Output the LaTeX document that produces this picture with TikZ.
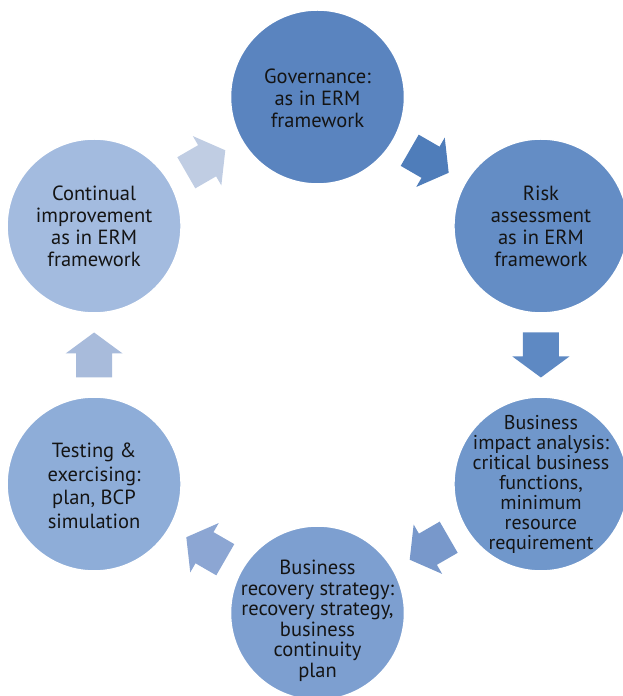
\documentclass[tikz,border=0pt]{standalone}
\usepackage{fontspec}
\setmainfont{PT Sans}
\definecolor{cGov}{HTML}{5A84BF}
\definecolor{cRisk}{HTML}{648DC5}
\definecolor{cBia}{HTML}{7097CB}
\definecolor{cBrs}{HTML}{7D9FD0}
\definecolor{cTest}{HTML}{8EADD8}
\definecolor{cCont}{HTML}{A3BBDF}
\definecolor{aOne}{HTML}{4F7DBA}
\definecolor{aTwo}{HTML}{5E89C3}
\definecolor{aThree}{HTML}{7898CB}
\definecolor{aFour}{HTML}{8CA6D3}
\definecolor{aFive}{HTML}{A8BBDB}
\definecolor{aSix}{HTML}{C0CDE3}
\definecolor{txt}{HTML}{141414}
\tikzset{
  bubble/.style={circle, minimum size=174pt, inner sep=0pt, draw=white, line width=1.5pt},
  label/.style={align=center, text=txt, font=\fontsize{20.5}{22}\selectfont},
}
\newcommand{\blockarrow}[3]{% angle, colour, name
  \begin{scope}[shift={(#1:223.4)}, rotate=#1-90]
    \coordinate (#3) at (0,0);
    \fill[#2] (-22.5,-18) -- (1.5,-18) -- (1.5,-28.5) -- (22.5,0) -- (1.5,28.5) -- (1.5,18) -- (-22.5,18) -- cycle;
  \end{scope}}
\begin{document}
\begin{tikzpicture}[x=1pt,y=1pt]
\useasboundingbox (0,0) rectangle (623,696);
\clip (0,0) rectangle (623,696);
\begin{scope}[shift={(317.5,341)}]
  \node[bubble, fill=cGov]  (gov)  at (90:258)   {};
  \node[bubble, fill=cRisk] (risk) at (30:258)   {};
  \node[bubble, fill=cBia]  (bia)  at (-30:258)  {};
  \node[bubble, fill=cBrs]  (brs)  at (-90:258)  {};
  \node[bubble, fill=cTest] (test) at (-150:258) {};
  \node[bubble, fill=cCont] (cont) at (150:258)  {};
  \blockarrow{60}{aOne}{a1}
  \blockarrow{0}{aTwo}{a2}
  \blockarrow{-60}{aThree}{a3}
  \blockarrow{-120}{aFour}{a4}
  \blockarrow{180}{aFive}{a5}
  \blockarrow{120}{aSix}{a6}
\end{scope}
\node[label] (govt) at ([yshift=-1pt]gov.center) {Governance:\\as in ERM\\framework};
\node[label] (riskt) at (risk.center) {Risk\\assessment\\as in ERM\\framework};
\node[label, font=\fontsize{20}{20}\selectfont] (biat) at (bia.center) {Business\\impact analysis:\\critical business\\functions,\\minimum\\resource\\requirement};
\node[label, font=\fontsize{20.5}{20.5}\selectfont] (brst) at ([yshift=-8pt]brs.center) {Business\\recovery strategy:\\recovery strategy,\\business\\continuity\\plan};
\node[label, font=\fontsize{20.5}{23.5}\selectfont] (testt) at ([yshift=-2pt]test.center) {Testing \&\\exercising:\\plan, BCP\\simulation};
\node[label] (contt) at (cont.center) {Continual\\improvement\\as in ERM\\framework};
\end{tikzpicture}
\end{document}
